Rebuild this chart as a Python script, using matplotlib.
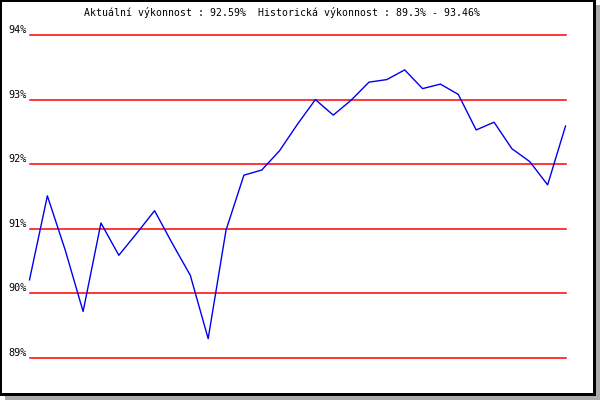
import matplotlib
matplotlib.use("Agg")
import matplotlib.pyplot as plt
from matplotlib.patches import Rectangle
from matplotlib.transforms import blended_transform_factory

# Data
performance = [90.21, 91.51, 90.67, 89.72, 91.09, 90.59, 90.93, 91.28, 90.77, 90.28,
               89.30, 90.98, 91.83, 91.91, 92.21, 92.62, 93.00, 92.76, 92.99, 93.27,
               93.31, 93.46, 93.17, 93.24, 93.08, 92.53, 92.65, 92.24, 92.04, 91.68,
               92.59]
y_ticks = [89, 90, 91, 92, 93, 94]
y_labels = ["89%", "90%", "91%", "92%", "93%", "94%"]
title_text = "Aktuální výkonnost : 92.59%  Historická výkonnost : 89.3% - 93.46%"

W, H = 600, 400
fig = plt.figure(figsize=(W / 100, H / 100), dpi=100, facecolor="white")


def px_rect(x0, y0, x1, y1, color, z):
    # pixel coordinates measured from the top-left corner
    fig.patches.append(Rectangle((x0 / W, 1 - y1 / H), (x1 - x0) / W, (y1 - y0) / H,
                                 transform=fig.transFigure, facecolor=color,
                                 edgecolor="none", zorder=z))


# Frame: grey drop shadow, black border, white interior
px_rect(5, 5, 600, 400, "#aaaaaa", -4)
px_rect(0, 0, 596, 396, "black", -3)
px_rect(2, 2, 593, 393, "white", -2)

left, right = 29.5, 565.5
top, bottom = 35, 358
ax = fig.add_axes([left / W, 1 - bottom / H, (right - left) / W, (bottom - top) / H])
ax.set_facecolor("none")
ax.set_xlim(0, len(performance) - 1)
ax.set_ylim(89, 94)
for s in ax.spines.values():
    s.set_visible(False)
ax.set_xticks([])
ax.set_yticks([])

for t in y_ticks:
    ax.axhline(t, color="#ff0000", lw=1.1, clip_on=False, zorder=1)

ax.plot(range(len(performance)), performance, color="#0000ee", lw=1.0,
        clip_on=False, zorder=2)

trans = blended_transform_factory(fig.transFigure, ax.transData)
for t, lab in zip(y_ticks, y_labels):
    fig.text(27 / W, t, lab, transform=trans, ha="right", va="bottom",
             family="DejaVu Sans Mono", fontsize=7.3, color="black")

fig.text(282 / W, 1 - 13 / H, title_text, ha="center", va="center",
         family="DejaVu Sans Mono", fontsize=7.1, color="black")

fig.savefig("out.png", dpi=100, facecolor=fig.get_facecolor())
